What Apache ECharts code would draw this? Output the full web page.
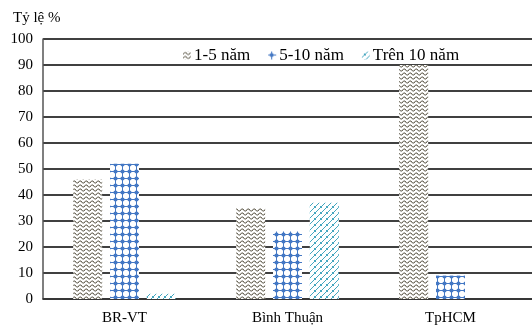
<!DOCTYPE html>
<html><head><meta charset="utf-8">
<script src="https://cdn.jsdelivr.net/npm/echarts@6/dist/echarts.min.js"></script>
<style>html,body{margin:0;padding:0;background:#fff}#c{width:532px;height:327px}</style>
</head><body><div id="c"></div>
<script>
const categories = ['BR-VT', 'Bình Thuận', 'TpHCM'];
const seriesNames = ['1-5 năm', '5-10 năm', 'Trên 10 năm'];
const s1 = [46, 35, 90];
const s2 = [52, 26, 9];
const s3 = [2, 37, 0];
const yTicks = [0, 10, 20, 30, 40, 50, 60, 70, 80, 90, 100];

function mk(w, h, draw) {
  const c = document.createElement('canvas'); c.width = w; c.height = h;
  const g = c.getContext('2d'); g.fillStyle = '#fff'; g.fillRect(0, 0, w, h); draw(g); return c;
}
const wave = mk(6, 4, g => {
  g.strokeStyle = '#5a5545'; g.lineWidth = 1;
  g.beginPath(); g.moveTo(0, 3); g.lineTo(1.5, 1); g.lineTo(3, 1); g.lineTo(4.5, 3); g.lineTo(6, 3); g.stroke();
});
const dots = mk(7, 7, g => {
  g.fillStyle = '#4478c4';
  g.beginPath(); g.arc(3.5, 3.5, 2.1, 0, Math.PI * 2); g.fill();
  g.fillRect(0, 3, 7, 1); g.fillRect(3, 0, 1, 7);
});
const hatch = mk(6, 6, g => {
  g.strokeStyle = '#44a6bf'; g.lineWidth = 1;
  g.beginPath(); g.moveTo(0, 6); g.lineTo(6, 0); g.stroke();
  g.beginPath(); g.moveTo(-3, 3); g.lineTo(0, 0); g.stroke();
  g.beginPath(); g.moveTo(2, 2); g.lineTo(4, 4); g.stroke();
});
const pats = [wave, dots, hatch];
const data = [s1, s2, s3];
const font = '"Liberation Serif","Times New Roman",serif';

const chart = echarts.init(document.getElementById('c'));
chart.setOption({
  animation: false,
  textStyle: { fontFamily: font },
  grid: { left: 43, right: -5, top: 39, bottom: 28 },
  title: { text: 'Tỷ lệ %', left: 8, top: 6, textStyle: { fontFamily: font, fontSize: 15, fontWeight: 'normal', color: '#000' } },
  legend: {
    top: 42, left: 178, itemWidth: 8, itemHeight: 8, itemGap: 18,
    textStyle: { fontFamily: font, fontSize: 17, color: '#000', padding: [0, 0, 0, -2] },
    data: seriesNames
  },
  xAxis: {
    type: 'category', data: categories,
    axisLine: { lineStyle: { color: '#333', width: 1.5 } },
    axisTick: { show: false },
    axisLabel: { fontFamily: font, fontSize: 15, color: '#000', margin: 12 }
  },
  yAxis: {
    type: 'value', min: 0, max: 100, interval: 10,
    axisLine: { show: true, lineStyle: { color: '#555', width: 1.5 } },
    axisTick: { show: false },
    splitLine: { lineStyle: { color: '#000', width: 1.5 } },
    axisLabel: { fontFamily: font, fontSize: 15, color: '#000', margin: 10,
      formatter: v => yTicks.includes(v) ? String(v) : '' }
  },
  series: seriesNames.map((n, i) => ({
    name: n, type: 'bar', data: data[i], barWidth: 29, barGap: '27%',
    itemStyle: { color: { image: pats[i], repeat: 'repeat' } }
  }))
});
</script></body></html>
